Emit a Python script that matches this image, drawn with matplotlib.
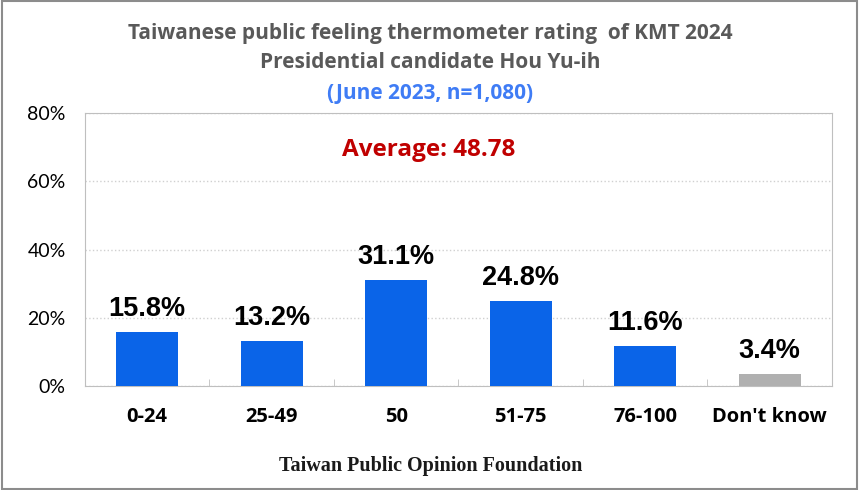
import matplotlib
matplotlib.use("Agg")
from matplotlib import pyplot as plt
from matplotlib.patches import Rectangle

categories = ['0-24', '25-49', '50', '51-75', '76-100', "Don't know"]
values = [15.8, 13.2, 31.1, 24.8, 11.6, 3.4]
bar_colors = ['#0A64E8'] * 5 + ['#B0B0B0']
yticks = [0, 20, 40, 60, 80]
average = 48.78

fig = plt.figure(figsize=(8.61, 4.9), dpi=100)
ax = fig.add_axes([0.0987, 0.2122, 0.8676, 0.5572])

x = list(range(len(categories)))
ax.bar(x, values, width=0.5, color=bar_colors, zorder=3)

for xi, v in zip(x, values):
    ax.text(xi, v + 3.0, f'{v:.1f}%', ha='center', va='bottom',
            fontsize=19.5, fontweight='bold', family='Liberation Sans', color='black')

ax.set_xlim(-0.5, len(categories) - 0.5)
ax.set_ylim(0, 80)
ax.set_yticks(yticks)
ax.set_yticklabels([f'{t}%' for t in yticks], family='Lato', fontsize=14)
ax.set_xticks(x)
ax.set_xticklabels(categories, family='Open Sans', fontsize=14.5, fontweight='bold')
ax.set_xticks([i + 0.5 for i in x[:-1]], minor=True)
ax.tick_params(axis='x', which='major', length=0, pad=15)
ax.tick_params(axis='x', which='minor', length=5, direction='in', color='#BFBFBF')
ax.tick_params(axis='y', length=0, pad=14)
ax.grid(axis='y', color='#D0D0D0', linestyle=':', linewidth=1, zorder=0)
for s in ax.spines.values():
    s.set_color('#BFBFBF')

ax.text(0.5 - 0.04, 0.865, f'Average: {average}', transform=ax.transAxes, ha='center', va='center',
        fontsize=17.5, fontweight='bold', family='Open Sans', color='#C00000')

fig.text(0.5, 1 - 33 / 490, 'Taiwanese public feeling thermometer rating  of KMT 2024',
         ha='center', va='center', fontsize=15, fontweight='bold', family='Open Sans', color='#595959')
fig.text(0.5, 1 - 62 / 490, 'Presidential candidate Hou Yu-ih',
         ha='center', va='center', fontsize=15, fontweight='bold', family='Open Sans', color='#595959')
fig.text(0.5, 1 - 93 / 490, '(June 2023, n=1,080)',
         ha='center', va='center', fontsize=15, fontweight='bold', family='Open Sans', color='#3F7CF5')
fig.text(0.5, 1 - 466 / 490, 'Taiwan Public Opinion Foundation',
         ha='center', va='center', fontsize=14.5, fontweight='bold', family='Liberation Serif', color='#1A1A1A')

fig.patches.append(Rectangle((0.002, 0.002), 0.993, 0.995, transform=fig.transFigure,
                             fill=False, edgecolor='#8C8C8C', linewidth=1.5))

fig.savefig('out.png', dpi=100)
